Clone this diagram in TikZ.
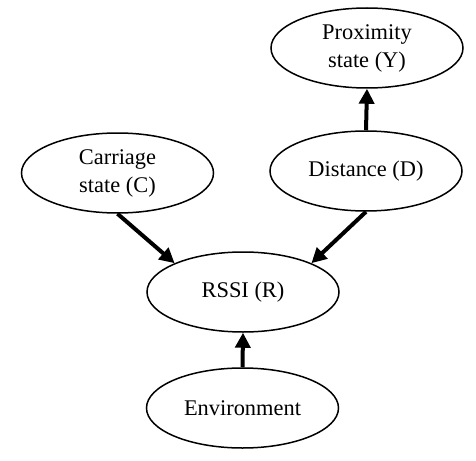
\documentclass[tikz,border=0pt]{standalone}
\usepackage{fontspec}
\setmainfont{Liberation Serif}
\usetikzlibrary{shapes.geometric,arrows.meta}
\tikzstyle{arrow} = [line width=2pt,-{Triangle[width=7.5pt,length=7.5pt]}]

\begin{document}
\begin{tikzpicture}[x=0.5pt,y=-0.5pt]
    \tikzstyle{state}=[ellipse,draw=black,line width=0.75pt,minimum width=96pt,minimum height=40pt,inner sep=0pt,align=center,font=\fontsize{11.2}{14}\selectfont]
    \useasboundingbox (0,0) rectangle (476,460);

    % Draw the state nodes
    \node[state] (Y) at (367,48) {Proximity\\state (Y)};
    \node[state] (C) at (117.5,173) {Carriage\\state (C)};
    \node[state] (D) at (366,171) {Distance (D)};
    \node[state] (R) at (243,292) {RSSI (R)};
    \node[state] (E) at (242.5,408) {Environment};

    % Connect the states
    \draw[arrow] (D.north) -- (Y.south);
    \draw[arrow] (C.south) -- (R.north west);
    \draw[arrow] (D.south) -- (R.north east);
    \draw[arrow] (E.north) -- (R.south);
\end{tikzpicture}
\end{document}
